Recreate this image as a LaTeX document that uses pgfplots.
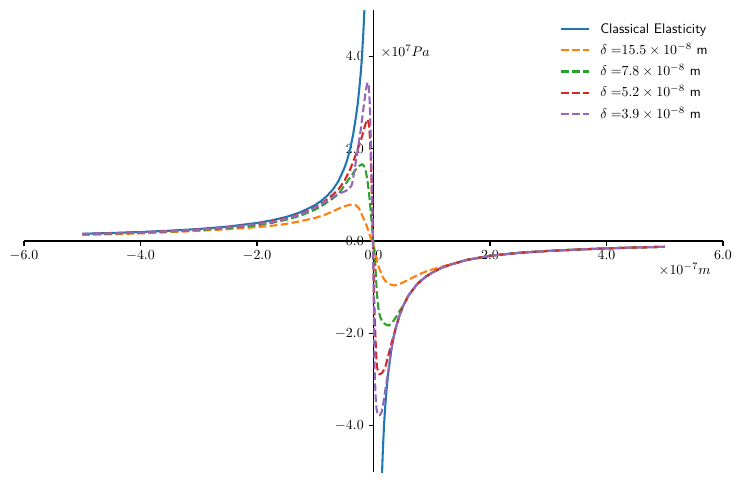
\documentclass[border=0pt]{standalone}
\usepackage{pgfplots}
\pgfplotsset{compat=1.18}
\definecolor{tabblue}{HTML}{1F77B4}
\definecolor{taborange}{HTML}{FF7F0E}
\definecolor{tabgreen}{HTML}{2CA02C}
\definecolor{tabred}{HTML}{D62728}
\definecolor{tabpurple}{HTML}{9467BD}
\begin{document}
\begin{tikzpicture}
\begin{axis}[
    scale only axis,
    width=503.28pt, height=332.64pt,
    xmin=-6, xmax=6, ymin=-5, ymax=5,
    axis lines=middle,
    axis line style={-, line width=0.8pt, black},
    every inner x axis line/.append style={-},
    every inner y axis line/.append style={-},
    xtick={-6,-4,-2,0,2,4,6},
    ytick={-4,-2,0,2,4},
    hide obscured x ticks=false,
    hide obscured y ticks=false,
    tick align=outside,
    major tick length=3.5pt,
    tick style={black, line width=0.8pt},
    xticklabel style={/pgf/number format/fixed, /pgf/number format/fixed zerofill, /pgf/number format/precision=1},
    yticklabel style={/pgf/number format/fixed, /pgf/number format/fixed zerofill, /pgf/number format/precision=1},
    unbounded coords=jump,
    legend cell align=left,
    legend style={draw=none, fill=none, font=\sffamily,
        at={(rel axis cs:1,1)}, anchor=north east, xshift=-9.8pt, yshift=-7.5pt,
        inner sep=0pt, row sep=3.3pt,
        nodes={inner sep=1pt, text height=8pt, text depth=2pt}},
    legend image code/.code={\draw[#1] plot coordinates {(0pt,0pt) (20pt,0pt)}; \path (26.6pt,0pt);},
    every axis plot/.append style={line width=1.5pt},
]
% classical elasticity
\addplot[tabblue] coordinates {
(-5.0,0.156) (-4.5,0.173) (-4.0,0.195) (-3.5,0.223) (-3.0,0.26) (-2.5,0.312)
(-2.0,0.39) (-1.75,0.446) (-1.5,0.52) (-1.25,0.624) (-1.0,0.78) (-0.9,0.867)
(-0.8,0.975) (-0.7,1.11) (-0.6,1.3) (-0.5,1.58) (-0.45,1.76) (-0.4,2.0)
(-0.35,2.3) (-0.3,2.7) (-0.27,2.98) (-0.24,3.35) (-0.22,3.62) (-0.2,3.95)
(-0.18,4.38) (-0.165,4.75) (-0.15,5.2)
(0,nan)
(0.135,-5.6) (0.14,-5.3) (0.15,-4.9) (0.16,-4.55) (0.18,-4.0) (0.2,-3.6)
(0.225,-3.2) (0.25,-2.9) (0.3,-2.4) (0.35,-2.05) (0.4,-1.8) (0.45,-1.6)
(0.5,-1.43) (0.6,-1.18) (0.75,-0.93) (0.9,-0.77) (1.0,-0.69) (1.15,-0.59)
(1.3,-0.52) (1.6,-0.41) (2.0,-0.32) (2.5,-0.255) (3.0,-0.215) (3.5,-0.185)
(4.0,-0.16) (4.5,-0.14) (5.0,-0.125)
};
\addlegendentry{Classical Elasticity}
% delta = 15.5
\addplot[taborange, dash pattern=on 5.55pt off 2.4pt] coordinates {
(-5,0.13) (-4.5,0.145) (-4,0.165) (-3.5,0.19) (-3,0.22) (-2.5,0.255) (-2,0.30)
(-1.75,0.33) (-1.5,0.37) (-1.25,0.43) (-1.0,0.50) (-0.85,0.56) (-0.7,0.64)
(-0.6,0.70) (-0.5,0.75) (-0.42,0.78) (-0.36,0.79) (-0.3,0.77) (-0.25,0.71)
(-0.2,0.57) (-0.16,0.46) (-0.12,0.34) (-0.08,0.19) (-0.05,0.08) (-0.02,-0.02)
(0.0,-0.1) (0.02,-0.2) (0.04,-0.33) (0.07,-0.48) (0.1,-0.6) (0.15,-0.76)
(0.2,-0.86) (0.25,-0.92) (0.3,-0.945) (0.35,-0.96) (0.4,-0.955) (0.45,-0.93)
(0.5,-0.9) (0.6,-0.84) (0.75,-0.74) (0.9,-0.66) (1.0,-0.62) (1.15,-0.56)
(1.3,-0.51) (1.6,-0.41) (2.0,-0.32) (2.5,-0.255) (3.0,-0.215) (3.5,-0.185)
(4.0,-0.16) (4.5,-0.14) (5.0,-0.125)
};
\addlegendentry{$\delta =$$15.5\times10^{-8}$ m}
% delta = 7.8
\addplot[tabgreen, dash pattern=on 5.55pt off 2.4pt] coordinates {
(-5,0.145) (-4.5,0.16) (-4,0.18) (-3.5,0.205) (-3,0.235) (-2.5,0.28) (-2,0.34)
(-1.75,0.39) (-1.5,0.46) (-1.25,0.55) (-1.0,0.68) (-0.85,0.79) (-0.7,0.92)
(-0.6,1.02) (-0.5,1.2) (-0.4,1.38) (-0.31,1.54) (-0.25,1.62) (-0.2,1.66)
(-0.17,1.64) (-0.14,1.55) (-0.11,1.36) (-0.08,1.08) (-0.05,0.68) (-0.03,0.38)
(-0.01,0.08) (0.0,-0.05) (0.015,-0.25) (0.03,-0.5) (0.045,-0.85) (0.06,-1.15)
(0.08,-1.42) (0.1,-1.57) (0.12,-1.66) (0.15,-1.74) (0.2,-1.8) (0.26,-1.83)
(0.32,-1.77) (0.38,-1.66) (0.44,-1.53) (0.5,-1.42) (0.6,-1.18) (0.75,-0.93)
(0.9,-0.77) (1.0,-0.69) (1.15,-0.59) (1.3,-0.52) (1.6,-0.41) (2.0,-0.32)
(2.5,-0.255) (3.0,-0.215) (3.5,-0.185) (4.0,-0.16) (4.5,-0.14) (5.0,-0.125)
};
\addlegendentry{$\delta =$$7.8\times10^{-8}$ m}
% delta = 5.2
\addplot[tabred, dash pattern=on 5.55pt off 2.4pt] coordinates {
(-5,0.15) (-4.5,0.167) (-4,0.188) (-3.5,0.215) (-3,0.25) (-2.5,0.30) (-2,0.37)
(-1.75,0.42) (-1.5,0.49) (-1.25,0.59) (-1.0,0.73) (-0.85,0.85) (-0.7,1.0)
(-0.6,1.12) (-0.5,1.3) (-0.4,1.55) (-0.3,1.88) (-0.2,2.25) (-0.15,2.48)
(-0.12,2.6) (-0.1,2.63) (-0.08,2.55) (-0.065,2.3) (-0.05,1.9) (-0.035,1.3)
(-0.02,0.65) (-0.01,0.1) (0.0,-0.5) (0.01,-1.2) (0.02,-1.6) (0.03,-1.95)
(0.045,-2.45) (0.06,-2.72) (0.08,-2.84) (0.1,-2.88) (0.12,-2.88) (0.15,-2.85)
(0.2,-2.74) (0.23,-2.6) (0.26,-2.45) (0.3,-2.25) (0.35,-2.02) (0.4,-1.8)
(0.45,-1.6) (0.5,-1.43) (0.6,-1.18) (0.75,-0.93) (0.9,-0.77) (1.0,-0.69)
(1.15,-0.59) (1.3,-0.52) (1.6,-0.41) (2.0,-0.32) (2.5,-0.255) (3.0,-0.215)
(3.5,-0.185) (4.0,-0.16) (4.5,-0.14) (5.0,-0.125)
};
\addlegendentry{$\delta =$$5.2\times10^{-8}$ m}
% delta = 3.9
\addplot[tabpurple, dash pattern=on 5.55pt off 2.4pt] coordinates {
(-5,0.148) (-4.5,0.165) (-4,0.185) (-3.5,0.212) (-3,0.245) (-2.5,0.295) (-2,0.365)
(-1.75,0.41) (-1.5,0.48) (-1.25,0.58) (-1.0,0.72) (-0.85,0.83) (-0.7,0.95)
(-0.6,1.02) (-0.5,1.07) (-0.42,1.12) (-0.37,1.22) (-0.33,1.5) (-0.28,1.9)
(-0.22,2.4) (-0.17,2.9) (-0.13,3.28) (-0.11,3.4) (-0.095,3.43) (-0.08,3.35)
(-0.065,3.0) (-0.05,2.4) (-0.035,1.6) (-0.02,0.8) (-0.01,0.0) (0.0,-0.9)
(0.01,-1.9) (0.02,-2.8) (0.035,-3.35) (0.05,-3.62) (0.07,-3.74) (0.09,-3.78)
(0.11,-3.77) (0.14,-3.7) (0.17,-3.5) (0.2,-3.25) (0.225,-3.05) (0.25,-2.85)
(0.3,-2.4) (0.35,-2.05) (0.4,-1.8) (0.45,-1.6) (0.5,-1.43) (0.6,-1.18)
(0.75,-0.93) (0.9,-0.77) (1.0,-0.69) (1.15,-0.59) (1.3,-0.52) (1.6,-0.41)
(2.0,-0.32) (2.5,-0.255) (3.0,-0.215) (3.5,-0.185) (4.0,-0.16) (4.5,-0.14)
(5.0,-0.125)
};
\addlegendentry{$\delta =$$3.9\times10^{-8}$ m}
\node[anchor=base west, inner sep=0pt, xshift=5pt] at (axis cs:0,4.0) {$\times10^{7}Pa$};
\node[anchor=base east, inner sep=0pt] at (axis cs:5.79,-0.72) {$\times10^{-7}m$};
\coordinate (sw) at (rel axis cs:0,0);
\coordinate (ne) at (rel axis cs:1,1);
\end{axis}
\pgfresetboundingbox
\path[use as bounding box] ([shift={(-17.28pt,-7.2pt)}]sw) rectangle ([shift={(12.24pt,7.2pt)}]ne);
\end{tikzpicture}
\end{document}
